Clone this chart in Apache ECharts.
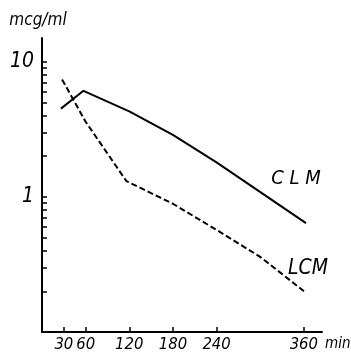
<!DOCTYPE html>
<html><head><meta charset="utf-8">
<script src="https://cdn.jsdelivr.net/npm/echarts@6/dist/echarts.min.js"></script>
<style>html,body{margin:0;padding:0;background:#fff}#c{width:351px;height:354px}</style>
</head><body><div id="c"></div>
<script>
var FONT = '"DejaVu Sans Condensed","Liberation Sans Narrow",sans-serif';
var xTicksA = [60, 120, 180, 240, 360];
var xTicksB = [30];
var yLabels = [1, 10];
var yTicks = [0.2, 0.3, 0.4, 0.5, 0.6, 0.7, 0.8, 0.9, 1, 2, 3, 4, 5, 6, 7, 8, 9, 10];
var clmX = [26, 57, 120, 180, 240, 363];
var clmY = [4.5, 6.1, 4.3, 2.88, 1.8, 0.64];
var lcmX = [27.6, 60, 116, 180, 240, 300, 363];
var lcmY = [7.4, 3.6, 1.31, 0.89, 0.57, 0.36, 0.195];
function pairs(xs, ys){ return xs.map(function(x,i){ return [x, ys[i]]; }); }
var labelStyle = {hideOverlap: false, showMinLabel: true, showMaxLabel: true, fontFamily: FONT, fontStyle: 'italic', fontSize: 16.5, color: '#000', margin: 4};
function xAxisFor(ticks, main){
  return {
    type: 'value', min: 0, max: 385, position: 'bottom',
    name: main ? 'min' : '', nameLocation: 'end', nameGap: 3,
    nameTextStyle: {fontFamily: FONT, fontStyle: 'italic', fontSize: 15, color: '#000', verticalAlign: 'top', padding: [5,0,0,0]},
    axisLine: {show: main, onZero: false, lineStyle: {color: '#000', width: 2}},
    axisTick: {show: true, inside: true, length: 5, lineStyle: {color: '#000', width: 1.5}, customValues: ticks},
    axisLabel: Object.assign({customValues: ticks}, labelStyle),
    splitLine: {show: false}
  };
}
var chart = echarts.init(document.getElementById('c'), null, {renderer:'canvas'});
chart.setOption({
  animation: false,
  backgroundColor: '#fff',
  grid: {left: 42, right: 29, top: 38, bottom: 22, containLabel: false, outerBoundsMode: 'none'},
  xAxis: [xAxisFor(xTicksA, true), xAxisFor(xTicksB, false)],
  yAxis: {
    type: 'log', logBase: 10, min: 0.1, max: 15,
    name: 'mcg/ml', nameLocation: 'end', nameGap: 9,
    nameTextStyle: {fontFamily: FONT, fontStyle: 'italic', fontSize: 17, color: '#000', align: 'center', padding: [0,8,0,0]},
    axisLine: {show: true, lineStyle: {color: '#000', width: 2}},
    axisTick: {show: true, inside: true, length: 5, lineStyle: {color: '#000', width: 1.5}, customValues: yTicks},
    axisLabel: {customValues: yLabels, hideOverlap: false, fontFamily: FONT, fontStyle: 'italic', fontSize: 21, color: '#000', margin: 8},
    splitLine: {show: false}, minorTick: {show: false}
  },
  series: [
    {type: 'line', xAxisIndex: 0, data: pairs(clmX, clmY), symbol: 'none', lineStyle: {color: '#000', width: 2},
     endLabel: {show: true, formatter: 'C L M', fontFamily: FONT, fontStyle: 'italic', fontSize: 20, color: '#000', align: 'center', verticalAlign: 'middle', distance: 0, offset: [-10, -44]}},
    {type: 'line', xAxisIndex: 0, data: pairs(lcmX, lcmY), symbol: 'none', lineStyle: {color: '#000', width: 2, type: [6, 3]},
     endLabel: {show: true, formatter: 'LCM', fontFamily: FONT, fontStyle: 'italic', fontSize: 21, color: '#000', align: 'center', verticalAlign: 'middle', distance: 0, offset: [2, -24]}}
  ]
});
</script></body></html>
